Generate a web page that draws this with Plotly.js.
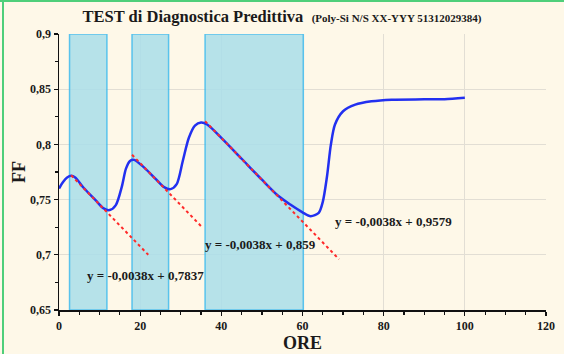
<!DOCTYPE html>
<html><head><meta charset="utf-8">
<script src="https://cdn.plot.ly/plotly-3.0.1.min.js"></script>
<style>
html,body{margin:0;padding:0;background:#fef8e8;}
#wrap{position:relative;width:564px;height:354px;overflow:hidden;}
#bt{position:absolute;left:0;top:0;width:564px;height:2px;background:#4fcf7a;z-index:5;}
#bl{position:absolute;left:2px;top:0;width:2px;height:354px;background:#4fcf7a;z-index:5;}
</style></head>
<body><div id="wrap"><div id="chart"></div><div id="bt"></div><div id="bl"></div></div>
<script>
// Measured curve (hours vs FF)
const ore = [0,1,2,3,4,6,9,11,12.5,14,15.5,16.5,17.5,18.5,21,24,26,27.5,29,30.5,32,33.5,35,36.5,40,45,50,54,57,60,62,64,65,66,67,68,70,73,77,82,90,95,100];
const ff  = [0.760,0.766,0.770,0.7715,0.770,0.761,0.7495,0.742,0.7405,0.745,0.762,0.778,0.785,0.786,0.779,0.768,0.761,0.7595,0.764,0.785,0.806,0.817,0.8198,0.818,0.806,0.787,0.768,0.7535,0.7455,0.7385,0.735,0.738,0.748,0.770,0.800,0.818,0.830,0.836,0.839,0.8405,0.8408,0.841,0.8423];
// Trend lines (endpoints)
const trend1X = [3,22],  trend1Y = [0.772,0.700];
const trend2X = [18,35], trend2Y = [0.7906,0.726];
const trend3X = [36,69], trend3Y = [0.821,0.696];
// Highlighted windows
const winStart = [2.6,18,36];
const winEnd   = [11.8,27,60.2];
// Equation labels
const eqText = ["y = -0,0038x + 0,7837","y = -0,0038x + 0,859","y = -0,0038x + 0,9579"];
const eqX = [21.4,49.7,82.5];
const eqY = [0.6817,0.7097,0.730];

const font = "'Liberation Serif','Times New Roman',serif";
const traces = [
  {x:ore,y:ff,mode:'lines',line:{color:'#2230f0',width:2.5,shape:'spline',smoothing:0.8},hoverinfo:'skip'},
  {x:trend1X,y:trend1Y,mode:'lines',line:{color:'#ff2a2a',width:2,dash:'dot'}},
  {x:trend2X,y:trend2Y,mode:'lines',line:{color:'#ff2a2a',width:2,dash:'dot'}},
  {x:trend3X,y:trend3Y,mode:'lines',line:{color:'#ff2a2a',width:2,dash:'dot'}}
];
const shapes = winStart.map((s,i)=>({type:'rect',xref:'x',yref:'y',x0:s,x1:winEnd[i],y0:0.65,y1:0.9,
  fillcolor:'rgb(172,223,234)',opacity:0.87,line:{color:'#40bcee',width:1.5},layer:'between'}));
const annotations = eqText.map((t,i)=>({x:eqX[i],y:eqY[i],xref:'x',yref:'y',text:'<b>'+t+'</b>',showarrow:false,
  font:{family:font,size:13,color:'#1a1a1a'}}));
const layout = {
  width:564,height:354,
  margin:{l:59,r:18,t:34,b:44},
  paper_bgcolor:'#fef8e8',plot_bgcolor:'#fef8e8',
  separators:',.',
  showlegend:false,
  font:{family:font,color:'#1a1a1a'},
  title:{text:'<b>TEST di Diagnostica Predittiva</b>  <b><span style="font-size:11px">(Poly-Si N/S XX-YYY 51312029384)</span></b>',
    font:{family:font,size:16.5,color:'#1a1a1a'},x:0.5,xref:'container',y:0.953,yref:'container',yanchor:'middle'},
  xaxis:{range:[0,120],dtick:20,tick0:0,showgrid:true,gridcolor:'#e2ded4',gridwidth:1.2,zeroline:false,
    showline:true,linecolor:'#111',linewidth:1.5,ticks:'outside',ticklen:4,tickwidth:1.2,tickcolor:'#111',
    minor:{dtick:5,ticks:'outside',ticklen:3,tickcolor:'#111',showgrid:false},
    tickfont:{family:font,size:12,color:'#1a1a1a',weight:'bold'},
    title:{text:'<b>ORE</b>',font:{family:font,size:18,color:'#1a1a1a'},standoff:1}},
  yaxis:{range:[0.65,0.9],dtick:0.05,tick0:0.65,showgrid:true,gridcolor:'#e2ded4',gridwidth:1.2,zeroline:false,
    showline:true,linecolor:'#111',linewidth:1.5,ticks:'outside',ticklen:4,tickwidth:1.2,tickcolor:'#111',
    minor:{dtick:0.025,ticks:'outside',ticklen:3,tickcolor:'#111',showgrid:false},
    tickfont:{family:font,size:12,color:'#1a1a1a',weight:'bold'},
    title:{text:'<b>FF</b>',font:{family:font,size:18,color:'#1a1a1a'},standoff:0}},
  shapes:shapes,
  annotations:annotations
};
Plotly.newPlot('chart',traces,layout,{staticPlot:true,displayModeBar:false});
</script></body></html>
